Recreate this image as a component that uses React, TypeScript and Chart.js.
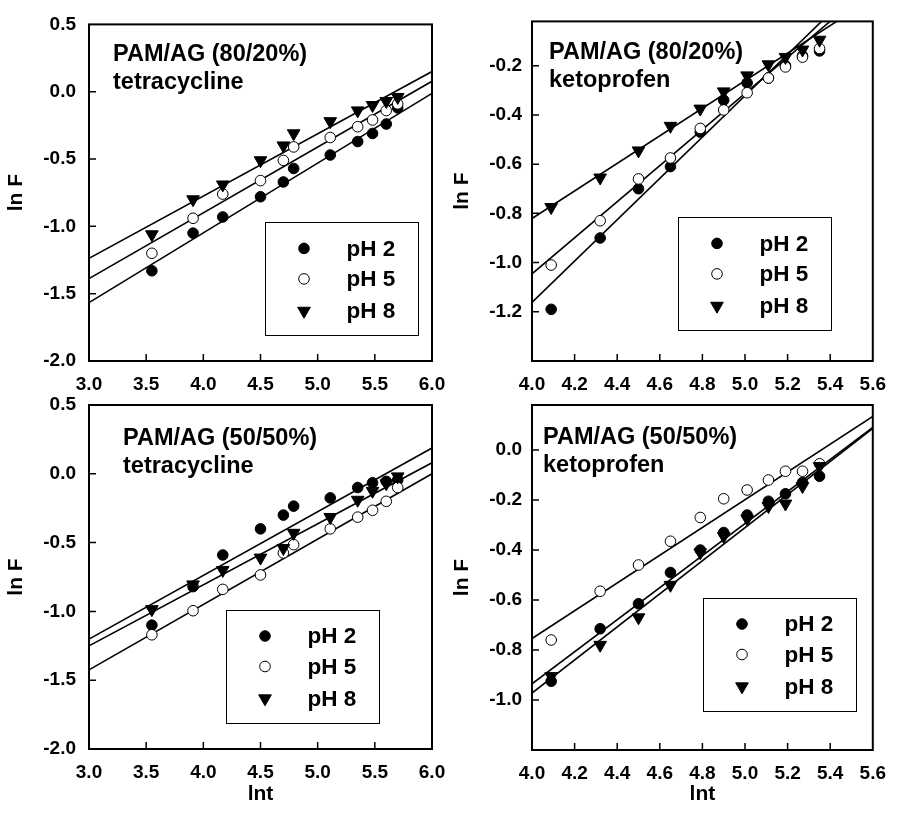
import React, { useEffect, useRef } from "react";
import { Chart, registerables } from "chart.js";
import { drawPoint } from "chart.js/helpers";

Chart.register(...registerables);

const FONT = "'Liberation Sans', Arial, Helvetica, sans-serif";

// ---------- data ----------
const seriesLabels = ["pH 2", "pH 5", "pH 8"];

// ln t values
const tetraLnT = [3.55, 3.91, 4.17, 4.5, 4.7, 4.79, 5.11, 5.35, 5.48, 5.6, 5.7];
const ketoLnT = [4.09, 4.32, 4.5, 4.65, 4.79, 4.9, 5.01, 5.11, 5.19, 5.27, 5.35];
const tetraFitX = [3.0, 6.0];
const ketoFitX = [4.0, 5.6];

// PAM/AG (80/20%) tetracycline
const t80pH2 = [-1.33, -1.05, -0.93, -0.78, -0.67, -0.57, -0.47, -0.37, -0.31, -0.24, -0.12];
const t80pH5 = [-1.2, -0.94, -0.76, -0.66, -0.51, -0.41, -0.34, -0.26, -0.21, -0.14, -0.09];
const t80pH8 = [-1.06, -0.8, -0.69, -0.51, -0.4, -0.31, -0.22, -0.14, -0.1, -0.07, -0.04];
const t80FitPH2 = [-1.566, -0.012];
const t80FitPH5 = [-1.388, 0.078];
const t80FitPH8 = [-1.238, 0.15];

// PAM/AG (80/20%) ketoprofen
const k80pH2 = [-1.19, -0.9, -0.7, -0.61, -0.47, -0.34, -0.27, -0.25, -0.2, -0.16, -0.14];
const k80pH5 = [-1.01, -0.83, -0.66, -0.575, -0.455, -0.38, -0.31, -0.25, -0.205, -0.165, -0.13];
const k80pH8 = [-0.775, -0.655, -0.545, -0.445, -0.375, -0.305, -0.24, -0.195, -0.165, -0.135, -0.095];
const k80FitPH2 = [-1.162, 0.182];
const k80FitPH5 = [-1.046, 0.127];
const k80FitPH8 = [-0.821, 0.075];

// PAM/AG (50/50%) tetracycline
const t50pH2 = [-1.1, -0.82, -0.59, -0.4, -0.3, -0.235, -0.175, -0.1, -0.065, -0.055, -0.045];
const t50pH5 = [-1.17, -0.995, -0.84, -0.735, -0.575, -0.515, -0.4, -0.315, -0.265, -0.2, -0.1];
const t50pH8 = [-0.985, -0.805, -0.7, -0.61, -0.54, -0.43, -0.315, -0.19, -0.125, -0.07, -0.02];
const t50FitPH2 = [-1.201, 0.187];
const t50FitPH5 = [-1.425, 0.0];
const t50FitPH8 = [-1.25, 0.08];

// PAM/AG (50/50%) ketoprofen
const k50pH2 = [-0.925, -0.715, -0.615, -0.49, -0.4, -0.33, -0.26, -0.205, -0.175, -0.13, -0.105];
const k50pH5 = [-0.76, -0.565, -0.46, -0.365, -0.27, -0.195, -0.16, -0.12, -0.085, -0.085, -0.055];
const k50pH8 = [-0.905, -0.78, -0.67, -0.54, -0.41, -0.345, -0.275, -0.225, -0.215, -0.145, -0.065];
const k50FitPH2 = [-0.935, 0.09];
const k50FitPH5 = [-0.754, 0.134];
const k50FitPH8 = [-0.972, 0.086];

// ---------- styles ----------
const STYLES = [
  { pointStyle: "circle", radius: 5.3, rotation: 0, fill: "#000000", order: 3 },
  { pointStyle: "circle", radius: 5.3, rotation: 0, fill: "#ffffff", order: 2 },
  { pointStyle: "triangle", radius: 7.3, rotation: 180, fill: "#000000", order: 1 },
];

type Panel = {
  pad: { left: number; top: number; right: number; bottom: number };
  yW: number;
  xH: number;
  xMin: number;
  xMax: number;
  xStep: number;
  yMin: number;
  yMax: number;
  yStep: number;
  yTickPad: number;
  xTitle: boolean;
  title: string[];
  tDX: number;
  tDY: number;
  lDX: number;
  lDY: number;
  xs: number[];
  series: number[][];
  fitX: number[];
  fits: number[][];
};

const W = 898;
const H = 813;

const panels: Panel[] = [
  {
    pad: { left: 4, top: 17, right: W - 432, bottom: H - 361 - 40 },
    yW: 85, xH: 40,
    xMin: 3, xMax: 6, xStep: 0.5, yMin: -2, yMax: 0.5, yStep: 0.5, yTickPad: 13,
    xTitle: false,
    title: ["PAM/AG (80/20%)", "tetracycline"], tDX: 24, tDY: 36.5,
    lDX: 176, lDY: 198,
    xs: tetraLnT, series: [t80pH2, t80pH5, t80pH8], fitX: tetraFitX, fits: [t80FitPH2, t80FitPH5, t80FitPH8],
  },
  {
    pad: { left: 450, top: 18, right: W - 877, bottom: H - 361 - 40 },
    yW: 82, xH: 40,
    xMin: 4, xMax: 5.6, xStep: 0.2, yMin: -1.4, yMax: -0.02, yStep: 0.2, yTickPad: 10,
    xTitle: false,
    title: ["PAM/AG (80/20%)", "ketoprofen"], tDX: 17, tDY: 37.7,
    lDX: 146, lDY: 196,
    xs: ketoLnT, series: [k80pH2, k80pH5, k80pH8], fitX: ketoFitX, fits: [k80FitPH2, k80FitPH5, k80FitPH8],
  },
  {
    pad: { left: 4, top: 405, right: W - 432, bottom: 6 },
    yW: 85, xH: H - 6 - 749,
    xMin: 3, xMax: 6, xStep: 0.5, yMin: -2, yMax: 0.5, yStep: 0.5, yTickPad: 13,
    xTitle: true,
    title: ["PAM/AG (50/50%)", "tetracycline"], tDX: 34, tDY: 40,
    lDX: 137, lDY: 205,
    xs: tetraLnT, series: [t50pH2, t50pH5, t50pH8], fitX: tetraFitX, fits: [t50FitPH2, t50FitPH5, t50FitPH8],
  },
  {
    pad: { left: 450, top: 405, right: W - 877, bottom: 6 },
    yW: 82, xH: H - 6 - 750,
    xMin: 4, xMax: 5.6, xStep: 0.2, yMin: -1.2, yMax: 0.18, yStep: 0.2, yTickPad: 10,
    xTitle: true,
    title: ["PAM/AG (50/50%)", "ketoprofen"], tDX: 11, tDY: 39,
    lDX: 171, lDY: 193,
    xs: ketoLnT, series: [k50pH2, k50pH5, k50pH8], fitX: ketoFitX, fits: [k50FitPH2, k50FitPH5, k50FitPH8],
  },
];

function buildConfig(p: Panel): any {
  const datasets: any[] = [];
  p.fits.forEach((fy, i) => {
    datasets.push({
      label: "fit " + seriesLabels[i],
      data: p.fitX.map((x, k) => ({ x, y: fy[k] })),
      showLine: true,
      borderColor: "#000000",
      borderWidth: 1.6,
      pointRadius: 0,
      fill: false,
      order: 10,
    });
  });
  p.series.forEach((ys, i) => {
    const s = STYLES[i];
    datasets.push({
      label: seriesLabels[i],
      data: p.xs.map((x, k) => ({ x, y: ys[k] })),
      showLine: false,
      pointStyle: s.pointStyle,
      pointRadius: s.radius,
      pointRotation: s.rotation,
      pointBackgroundColor: s.fill,
      pointBorderColor: "#000000",
      pointBorderWidth: 1,
      order: s.order,
    });
  });

  const tickFont = { family: FONT, size: 19, weight: "bold" as const };
  const titleFont = { family: FONT, size: 21, weight: "bold" as const };
  const fmt = (v: any) => Number(v).toFixed(1);

  const panelPlugin = {
    id: "panelDeco",
    afterDatasetsDraw(chart: any) {
      const ctx = chart.ctx;
      const { left, top, right, bottom } = chart.chartArea;
      ctx.save();
      ctx.strokeStyle = "#000000";
      // inward ticks
      ctx.lineWidth = 1.5;
      const xs = chart.scales.x;
      const ys = chart.scales.y;
      ctx.beginPath();
      xs.ticks.forEach((t: any) => {
        const px = xs.getPixelForValue(t.value);
        if (px <= left + 1 || px >= right - 1) return;
        ctx.moveTo(px, bottom);
        ctx.lineTo(px, bottom - 7);
      });
      ys.ticks.forEach((t: any) => {
        const py = ys.getPixelForValue(t.value);
        if (py <= top + 1 || py >= bottom - 1) return;
        ctx.moveTo(left, py);
        ctx.lineTo(left + 7, py);
      });
      ctx.stroke();
      // frame
      ctx.lineWidth = 2;
      ctx.strokeRect(left, top, right - left, bottom - top);
      ctx.restore();
    },
    afterDraw(chart: any) {
      const ctx = chart.ctx;
      const { left, top } = chart.chartArea;
      ctx.save();
      // annotation
      ctx.fillStyle = "#000000";
      ctx.font = `bold 23.5px ${FONT}`;
      ctx.textAlign = "left";
      ctx.textBaseline = "alphabetic";
      ctx.fillText(p.title[0], left + p.tDX, top + p.tDY);
      ctx.fillText(p.title[1], left + p.tDX, top + p.tDY + 27.7);
      // legend
      const bx = left + p.lDX;
      const by = top + p.lDY;
      const bw = 153;
      const bh = 113;
      ctx.fillStyle = "#ffffff";
      ctx.fillRect(bx, by, bw, bh);
      ctx.strokeStyle = "#000000";
      ctx.lineWidth = 1;
      ctx.strokeRect(Math.round(bx) + 0.5, Math.round(by) + 0.5, bw, bh);
      const rows = [26, 56.5, 88.5];
      seriesLabels.forEach((lab, i) => {
        const s = STYLES[i];
        ctx.fillStyle = s.fill;
        ctx.strokeStyle = "#000000";
        ctx.lineWidth = 1;
        drawPoint(ctx, { pointStyle: s.pointStyle as any, radius: s.radius, rotation: s.rotation, borderWidth: 1 }, bx + 39, by + rows[i]);
        ctx.fillStyle = "#000000";
        ctx.font = `bold 22.5px ${FONT}`;
        ctx.textBaseline = "middle";
        ctx.fillText(lab, bx + 81.5, by + rows[i] + 1);
      });
      ctx.restore();
    },
  };

  return {
    type: "scatter",
    data: { datasets },
    options: {
      animation: false,
      responsive: false,
      maintainAspectRatio: false,
      devicePixelRatio: 1,
      events: [],
      layout: { padding: p.pad },
      plugins: {
        legend: { display: false },
        tooltip: { enabled: false },
        title: { display: false },
      },
      scales: {
        x: {
          type: "linear",
          position: "bottom",
          min: p.xMin,
          max: p.xMax,
          afterFit: (s: any) => {
            s.height = p.xH;
          },
          grid: { display: false, drawTicks: false },
          border: { display: false },
          ticks: {
            stepSize: p.xStep,
            autoSkip: false,
            maxRotation: 0,
            minRotation: 0,
            padding: 12,
            color: "#000000",
            font: tickFont,
            callback: fmt,
          },
          title: { display: p.xTitle, text: "lnt", color: "#000000", font: titleFont, padding: 0 },
        },
        y: {
          type: "linear",
          position: "left",
          min: p.yMin,
          max: p.yMax,
          afterFit: (s: any) => {
            s.width = p.yW;
          },
          grid: { display: false, drawTicks: false },
          border: { display: false },
          ticks: {
            stepSize: p.yStep,
            includeBounds: false,
            autoSkip: false,
            padding: p.yTickPad,
            color: "#000000",
            font: tickFont,
            callback: fmt,
          },
          title: { display: true, text: "ln F", color: "#000000", font: titleFont, padding: 0 },
        },
      },
    },
    plugins: [panelPlugin],
  };
}

function PanelCanvas({ panel }: { panel: Panel }) {
  const ref = useRef<HTMLCanvasElement | null>(null);
  useEffect(() => {
    if (!ref.current) return;
    const chart = new Chart(ref.current, buildConfig(panel));
    return () => chart.destroy();
  }, [panel]);
  return (
    <canvas
      ref={ref}
      width={W}
      height={H}
      style={{ position: "absolute", left: 0, top: 0, width: W, height: H }}
    />
  );
}

export default function App() {
  return (
    <div
      style={{
        position: "absolute",
        left: 0,
        top: 0,
        width: W,
        height: H,
        background: "#ffffff",
        overflow: "hidden",
      }}
    >
      {panels.map((p, i) => (
        <PanelCanvas key={i} panel={p} />
      ))}
    </div>
  );
}
